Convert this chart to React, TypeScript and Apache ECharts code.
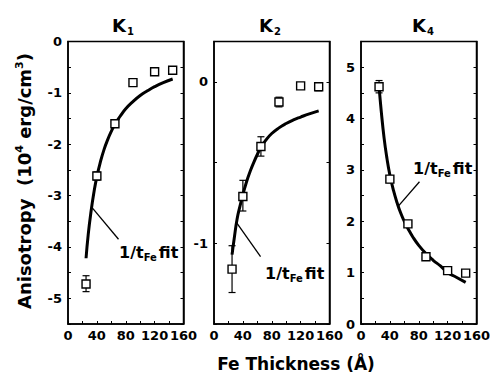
import React, { useEffect, useRef } from "react";
import * as echarts from "echarts";

// ---- data ----
const thickness = [25, 40, 65, 90, 120, 145];

const k1Values = [-4.72, -2.62, -1.6, -0.8, -0.59, -0.56];
const k1ErrLow = [-4.87, -2.7, -1.64, -0.84, -0.63, -0.6];
const k1ErrHigh = [-4.56, -2.54, -1.56, -0.76, -0.55, -0.52];

const k2Values = [-1.16, -0.71, -0.4, -0.125, -0.025, -0.03];
const k2ErrLow = [-1.305, -0.8, -0.46, -0.155, -0.04, -0.055];
const k2ErrHigh = [-1.015, -0.61, -0.34, -0.095, -0.01, -0.005];

const k4Values = [4.62, 2.82, 1.95, 1.31, 1.04, 0.99];
const k4ErrLow = [4.5, 2.75, 1.9, 1.27, 1.0, 0.95];
const k4ErrHigh = [4.74, 2.89, 2.0, 1.35, 1.08, 1.03];

// fit curves
const fitX = [25, 28, 32, 36, 40, 45, 50, 55, 60, 65, 72, 80, 90, 100, 110, 120, 132, 145];
const k1FitY = [-4.22, -3.76, -3.3, -2.93, -2.63, -2.34, -2.1, -1.91, -1.75, -1.61, -1.46, -1.31, -1.17, -1.05, -0.96, -0.88, -0.8, -0.73];
const k2FitY = [-1.07, -0.97, -0.85, -0.77, -0.7, -0.62, -0.555, -0.5, -0.45, -0.405, -0.36, -0.32, -0.285, -0.258, -0.236, -0.218, -0.198, -0.18];
const k4FitY = [4.62, 4.15, 3.62, 3.22, 2.9, 2.6, 2.36, 2.16, 2.0, 1.86, 1.69, 1.53, 1.37, 1.24, 1.13, 1.0, 0.91, 0.81];

// leader lines [x1, y1, x2, y2] in data units
const k1Leader = [70, -3.85, 32.5, -3.22];
const k2Leader = [64.5, -1.083, 31, -0.87];
const k4Leader = [81, 2.77, 52, 2.3];

const xTickLabels = ["0", "40", "80", "120", "160"];
const panelTitles = ["1", "2", "4"];

const FONT = "DejaVu Sans";

export default function App() {
  const ref = useRef<HTMLDivElement>(null);
  useEffect(() => {
    if (!ref.current) return;
    const chart = echarts.init(ref.current, null, { renderer: "svg" });

    const grids = [
      { left: 68, top: 41.5, width: 115.5, height: 282.5 },
      { left: 214, top: 41.5, width: 115.5, height: 282.5 },
      { left: 361, top: 41.5, width: 115.5, height: 282.5 },
    ];
    const yRanges = [
      [-5.5, 0],
      [-1.5, 0.25],
      [0, 5.5],
    ];

    const yLabelFmt = (v: number) =>
      Math.abs(v - Math.round(v)) < 1e-6 ? String(Math.round(v)) : "";
    const xLabelFmt = (v: number) =>
      xTickLabels.indexOf(String(v)) >= 0 ? String(v) : "";

    const xAxes: any[] = grids.map((_, i) => ({
      type: "value",
      gridIndex: i,
      min: 0,
      max: 160,
      interval: 20,
      axisLine: { show: true, onZero: false, lineStyle: { color: "#000", width: 1.5 } },
      axisTick: { show: true, inside: true, length: 3, lineStyle: { color: "#000", width: 1 } },
      axisLabel: {
        formatter: xLabelFmt,
        color: "#000",
        fontFamily: FONT,
        fontWeight: "bold",
        fontSize: 13,
        margin: 5,
      },
      splitLine: { show: false },
    }));

    const yAxes: any[] = [];
    grids.forEach((_, i) => {
      yAxes.push({
        type: "value",
        gridIndex: i,
        min: yRanges[i][0],
        max: yRanges[i][1],
        interval: 0.5,
        axisLine: { show: true, onZero: false, lineStyle: { color: "#000", width: 1.5 } },
        axisTick: { show: true, inside: true, length: 3, lineStyle: { color: "#000", width: 1 } },
        axisLabel: {
          formatter: yLabelFmt,
          color: "#000",
          fontFamily: FONT,
          fontWeight: "bold",
          fontSize: 13,
          margin: 6,
        },
        splitLine: { show: false },
      });
    });
    grids.forEach((_, i) => {
      yAxes.push({
        type: "value",
        gridIndex: i,
        position: "right",
        min: yRanges[i][0],
        max: yRanges[i][1],
        interval: 0.5,
        axisLine: { show: true, onZero: false, lineStyle: { color: "#000", width: 1.5 } },
        axisTick: { show: true, inside: true, length: 3, lineStyle: { color: "#000", width: 1 } },
        axisLabel: { show: false },
        splitLine: { show: false },
      });
    });

    const panels = [
      { v: k1Values, lo: k1ErrLow, hi: k1ErrHigh, fy: k1FitY, ld: k1Leader },
      { v: k2Values, lo: k2ErrLow, hi: k2ErrHigh, fy: k2FitY, ld: k2Leader },
      { v: k4Values, lo: k4ErrLow, hi: k4ErrHigh, fy: k4FitY, ld: k4Leader },
    ];

    const series: any[] = [];
    panels.forEach((p, i) => {
      series.push({
        type: "line",
        xAxisIndex: i,
        yAxisIndex: i,
        data: fitX.map((x, j) => [x, p.fy[j]]),
        smooth: 0.5,
        showSymbol: false,
        symbol: "none",
        lineStyle: { color: "#000", width: 3 },
        z: 2,
        markLine: {
          silent: true,
          symbol: ["none", "none"],
          label: { show: false },
          lineStyle: { color: "#000", width: 1.3, type: "solid" },
          data: [[{ coord: [p.ld[0], p.ld[1]] }, { coord: [p.ld[2], p.ld[3]] }]],
        },
      });
      series.push({
        type: "custom",
        xAxisIndex: i,
        yAxisIndex: i,
        data: thickness.map((x, j) => [x, p.lo[j], p.hi[j]]),
        encode: { x: 0, y: [1, 2] },
        z: 3,
        renderItem: (params: any, api: any) => {
          const x = api.value(0);
          const a = api.coord([x, api.value(1)]);
          const b = api.coord([x, api.value(2)]);
          const w = 3.5;
          const st = { stroke: "#000", lineWidth: 1.2 };
          return {
            type: "group",
            children: [
              { type: "line", shape: { x1: a[0], y1: a[1], x2: b[0], y2: b[1] }, style: st },
              { type: "line", shape: { x1: a[0] - w, y1: a[1], x2: a[0] + w, y2: a[1] }, style: st },
              { type: "line", shape: { x1: b[0] - w, y1: b[1], x2: b[0] + w, y2: b[1] }, style: st },
            ],
          };
        },
      });
      series.push({
        type: "scatter",
        xAxisIndex: i,
        yAxisIndex: i,
        data: thickness.map((x, j) => [x, p.v[j]]),
        symbol: "rect",
        symbolSize: 8,
        itemStyle: { color: "#fff", borderColor: "#000", borderWidth: 1.4, opacity: 1 },
        z: 4,
      });
    });

    const titleX = [123, 270, 423];
    const annot = [
      { x: 119, y: 252 },
      { x: 265, y: 273 },
      { x: 413, y: 168 },
    ];
    const richAnnot = {
      a: { fontSize: 16, fontWeight: "bold", fontFamily: FONT, fill: "#000", color: "#000" },
      s: { fontSize: 10, fontWeight: "bold", fontFamily: FONT, fill: "#000", color: "#000", padding: [10, 2, 0, 0] },
    };

    const graphic: any[] = [];
    titleX.forEach((x, i) => {
      graphic.push({
        type: "text",
        x,
        y: 25,
        style: {
          text: `{k|K}{s|${panelTitles[i]}}`,
          textAlign: "center",
          textVerticalAlign: "middle",
          rich: {
            k: { fontSize: 18, fontWeight: "bold", fontFamily: FONT, fill: "#000", color: "#000" },
            s: { fontSize: 10, fontWeight: "bold", fontFamily: FONT, fill: "#000", color: "#000", padding: [12, 0, 0, 1] },
          },
        },
      });
    });
    annot.forEach((p) => {
      graphic.push({
        type: "text",
        x: p.x,
        y: p.y,
        style: {
          text: "{a|1/t}{s|Fe}{a|fit}",
          textAlign: "left",
          textVerticalAlign: "middle",
          rich: richAnnot,
        },
      });
    });
    graphic.push({
      type: "text",
      x: 24,
      y: 181,
      rotation: Math.PI / 2,
      style: {
        text: "{a|Anisotropy  (10}{p|4}{a| erg/cm}{p|3}{a|)}",
        textAlign: "center",
        textVerticalAlign: "middle",
        rich: {
          a: { fontSize: 18, fontWeight: "bold", fontFamily: FONT, fill: "#000", color: "#000" },
          p: { fontSize: 11, fontWeight: "bold", fontFamily: FONT, fill: "#000", color: "#000", padding: [0, 0, 10, 0] },
        },
      },
    });
    graphic.push({
      type: "text",
      x: 296,
      y: 364,
      style: {
        text: "Fe Thickness (Å)",
        textAlign: "center",
        textVerticalAlign: "middle",
        font: `bold 17px "${FONT}"`,
        fill: "#000",
      },
    });

    chart.setOption({
      animation: false,
      backgroundColor: "#fff",
      grid: grids.map((g) => ({
        ...g,
        show: true,
        borderColor: "#000",
        borderWidth: 1.5,
        backgroundColor: "transparent",
        containLabel: false,
        outerBoundsMode: "none",
      })),
      xAxis: xAxes,
      yAxis: yAxes,
      series,
      graphic,
    });
    return () => chart.dispose();
  }, []);

  return (
    <div
      ref={ref}
      style={{ position: "fixed", left: 0, top: 0, width: 490, height: 379, background: "#fff" }}
    />
  );
}
